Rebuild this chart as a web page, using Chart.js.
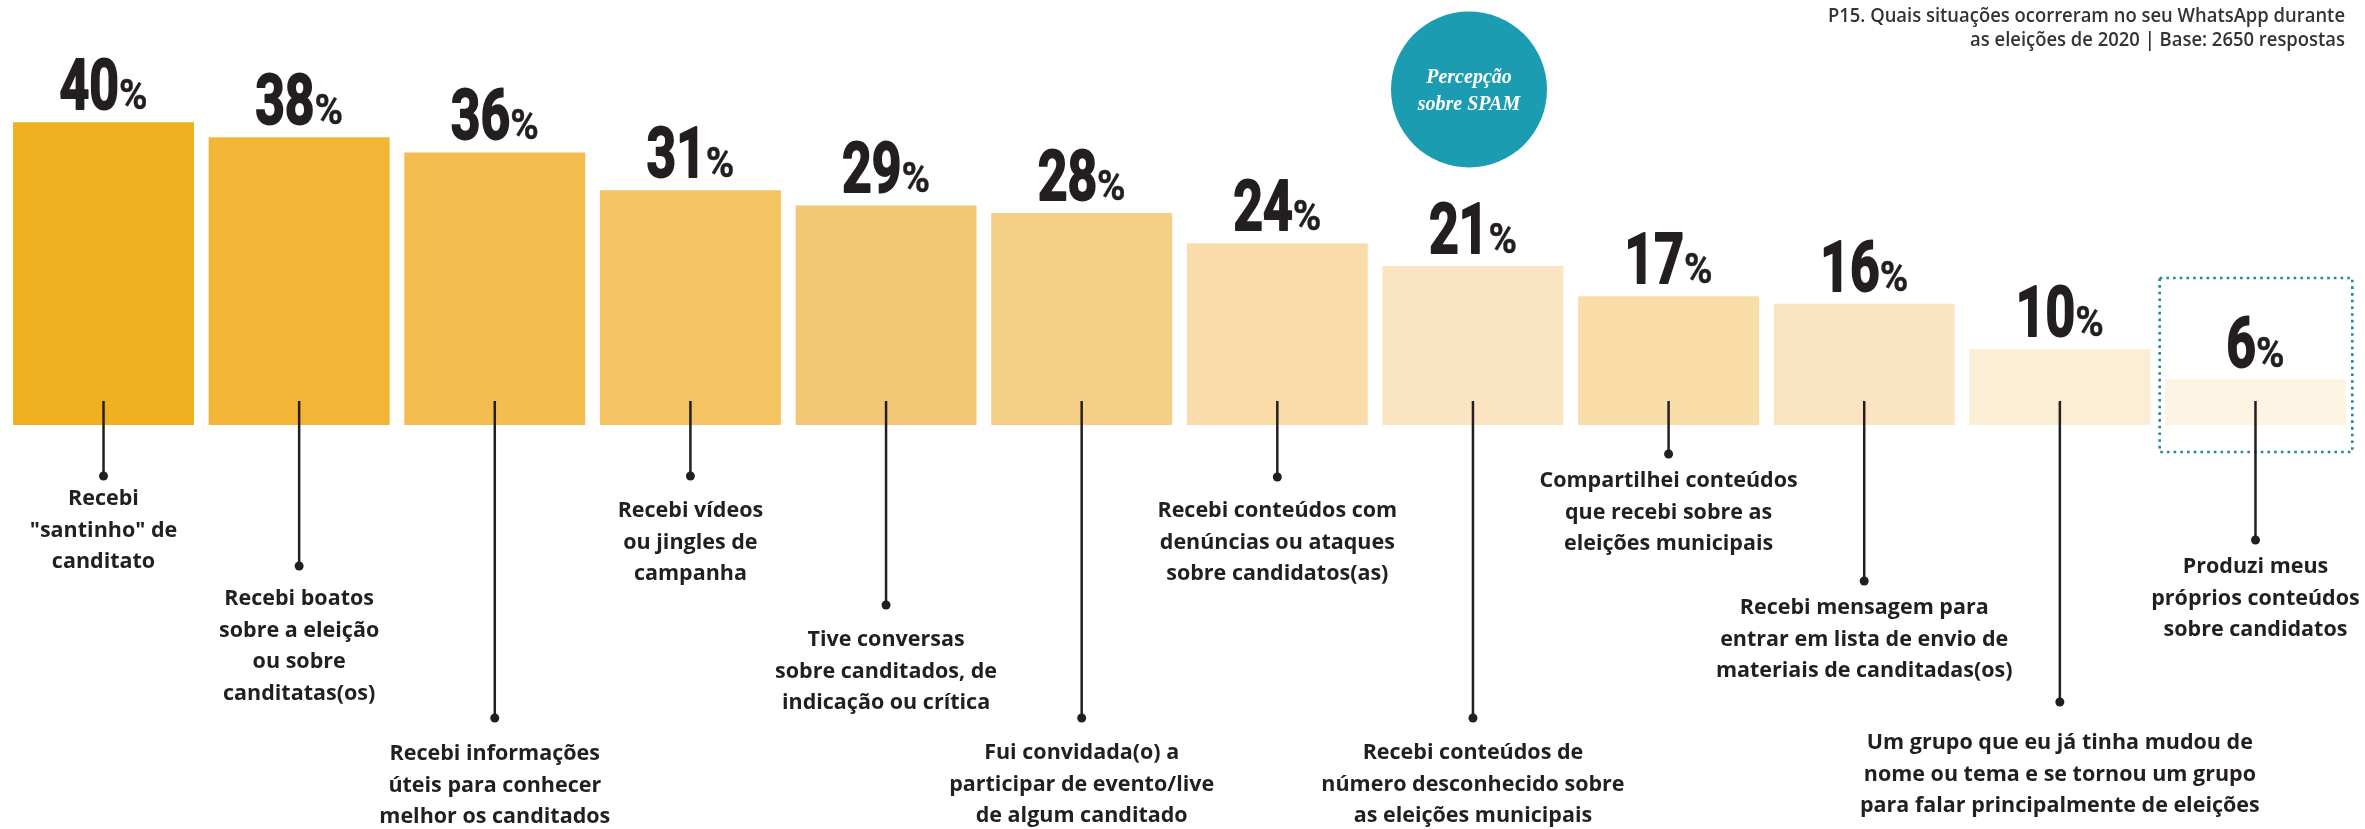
<!DOCTYPE html>
<html>
<head>
<meta charset="utf-8">
<script src="https://cdn.jsdelivr.net/npm/chart.js@4.4.1/dist/chart.umd.min.js"></script>
<style>
  html, body { margin: 0; padding: 0; background: #fff; }
  #wrap { width: 2365px; height: 829px; position: relative; }
</style>
</head>
<body>
<div id="wrap"><canvas id="spam-chart"></canvas></div>
<script>
// dados (P15)
const categorias = [
  ['Recebi', '"santinho" de', 'canditato'],
  ['Recebi boatos', 'sobre a eleição', 'ou sobre', 'canditatas(os)'],
  ['Recebi informações', 'úteis para conhecer', 'melhor os canditados'],
  ['Recebi vídeos', 'ou jingles de', 'campanha'],
  ['Tive conversas', 'sobre canditados, de', 'indicação ou crítica'],
  ['Fui convidada(o) a', 'participar de evento/live', 'de algum canditado'],
  ['Recebi conteúdos com', 'denúncias ou ataques', 'sobre candidatos(as)'],
  ['Recebi conteúdos de', 'número desconhecido sobre', 'as eleições municipais'],
  ['Compartilhei conteúdos', 'que recebi sobre as', 'eleições municipais'],
  ['Recebi mensagem para', 'entrar em lista de envio de', 'materiais de canditadas(os)'],
  ['Um grupo que eu já tinha mudou de', 'nome ou tema e se tornou um grupo', 'para falar principalmente de eleições'],
  ['Produzi meus', 'próprios conteúdos', 'sobre candidatos']
];
const percentuais = [40, 38, 36, 31, 29, 28, 24, 21, 17, 16, 10, 6];
const titulo = ['P15. Quais situações ocorreram no seu WhatsApp durante', 'as eleições de 2020 | Base: 2650 respostas'];
const selo = ['Percepção', 'sobre SPAM'];

// estilo
const cores = ['#EFAF1F', '#F3B535', '#F3BE4F', '#F4C462', '#F4C776', '#F6CF86',
               '#F9DCAA', '#FAE4C2', '#F9DDA9', '#FAE4C1', '#FCEDD5', '#FDF4E4'];
const tinta = '#231F20';
const azul = '#1B9CB1';
// y do ponto e da primeira linha de cada rótulo
const pontoY = [476, 566, 718, 476, 605, 718, 477, 718, 454, 581, 702, 540];
const textoY = [499, 599, 754, 511, 640, 753, 511, 753, 481, 608, 743, 567];

function texto(ctx, s, x, y, font, sx, grossura) {
  ctx.save();
  ctx.translate(x, y);
  ctx.scale(sx, 1);
  ctx.font = font;
  ctx.fillText(s, 0, 0);
  if (grossura) {
    ctx.lineWidth = grossura;
    ctx.lineJoin = 'round';
    ctx.strokeStyle = ctx.fillStyle;
    ctx.strokeText(s, 0, 0);
  }
  ctx.restore();
}

const rotulos = {
  id: 'rotulos',
  afterDatasetsDraw(chart) {
    const ctx = chart.ctx;
    const xs = chart.scales.x;
    const area = chart.chartArea;
    const meta = chart.getDatasetMeta(0);
    ctx.save();

    // caixa pontilhada no último item
    const last = percentuais.length - 1;
    const half = (xs.getPixelForValue(1) - xs.getPixelForValue(0)) / 2;
    ctx.strokeStyle = '#1C8A9A';
    ctx.lineWidth = 2.6;
    ctx.setLineDash([2.6, 4.1]);
    ctx.strokeRect(xs.getPixelForValue(last) - half + 2, 278, 2 * half - 3, 174);
    ctx.setLineDash([]);

    const fNum = 'bold 70px Roboto';
    const fPct = 'bold 42px Roboto';
    const sx = 0.74, sp = 0.92;

    meta.data.forEach((bar, i) => {
      const x = bar.x;
      // valor
      const num = String(percentuais[i]);
      ctx.fillStyle = tinta;
      ctx.textBaseline = 'alphabetic';
      ctx.textAlign = 'left';
      ctx.font = fNum;
      const wn = ctx.measureText(num).width * sx;
      ctx.font = fPct;
      const wp = ctx.measureText('%').width * sp;
      const gap = 0;
      const total = wn + gap + wp;
      const base = bar.y - 13;
      const x0 = x - total / 2;
      texto(ctx, num, x0, base, fNum, sx, 2);
      texto(ctx, '%', x0 + wn + gap, base, fPct, sp, 0.4);

      // linha guia
      ctx.strokeStyle = tinta;
      ctx.lineWidth = 2.5;
      ctx.beginPath();
      ctx.moveTo(x, area.bottom - 24);
      ctx.lineTo(x, pontoY[i]);
      ctx.stroke();
      ctx.beginPath();
      ctx.arc(x, pontoY[i], 4.5, 0, Math.PI * 2);
      ctx.fill();

      // texto da categoria
      ctx.font = 'bold 21.5px "Open Sans"';
      ctx.textAlign = 'center';
      ctx.textBaseline = 'middle';
      categorias[i].forEach((ln, k) => {
        ctx.fillText(ln, x, textoY[i] + k * 31.5);
      });
    });

    // título
    ctx.fillStyle = '#333333';
    ctx.textBaseline = 'middle';
    ctx.textAlign = 'right';
    titulo.forEach((ln, k) => {
      texto(ctx, ln, 2345, 17 + k * 24, '600 19px "Open Sans"', 0.97, 0);
    });

    // selo
    ctx.fillStyle = azul;
    ctx.beginPath();
    ctx.arc(1469, 89.5, 78, 0, Math.PI * 2);
    ctx.fill();
    ctx.fillStyle = '#ffffff';
    ctx.textAlign = 'center';
    ctx.font = 'italic bold 20px "Liberation Serif"';
    selo.forEach((ln, k) => {
      ctx.fillText(ln, 1469, 78 + k * 27);
    });

    ctx.restore();
  }
};

const ctx = document.getElementById('spam-chart').getContext('2d');
const grafico = new Chart(ctx, {
  type: 'bar',
  data: {
    labels: categorias.map(c => c.join(' ')),
    datasets: [{
      label: 'Situações',
      data: percentuais,
      backgroundColor: cores,
      borderWidth: 0,
      barPercentage: 0.925,
      categoryPercentage: 1.0
    }]
  },
  options: {
    responsive: true,
    maintainAspectRatio: false,
    animation: false,
    layout: { padding: { left: 5.7, right: 11.7, top: 1, bottom: 404 } },
    plugins: {
      legend: { display: false },
      tooltip: { enabled: false }
    },
    scales: {
      x: { display: false },
      y: { display: false, min: 0, max: 56 }
    }
  },
  plugins: [rotulos]
});
</script>
</body>
</html>
